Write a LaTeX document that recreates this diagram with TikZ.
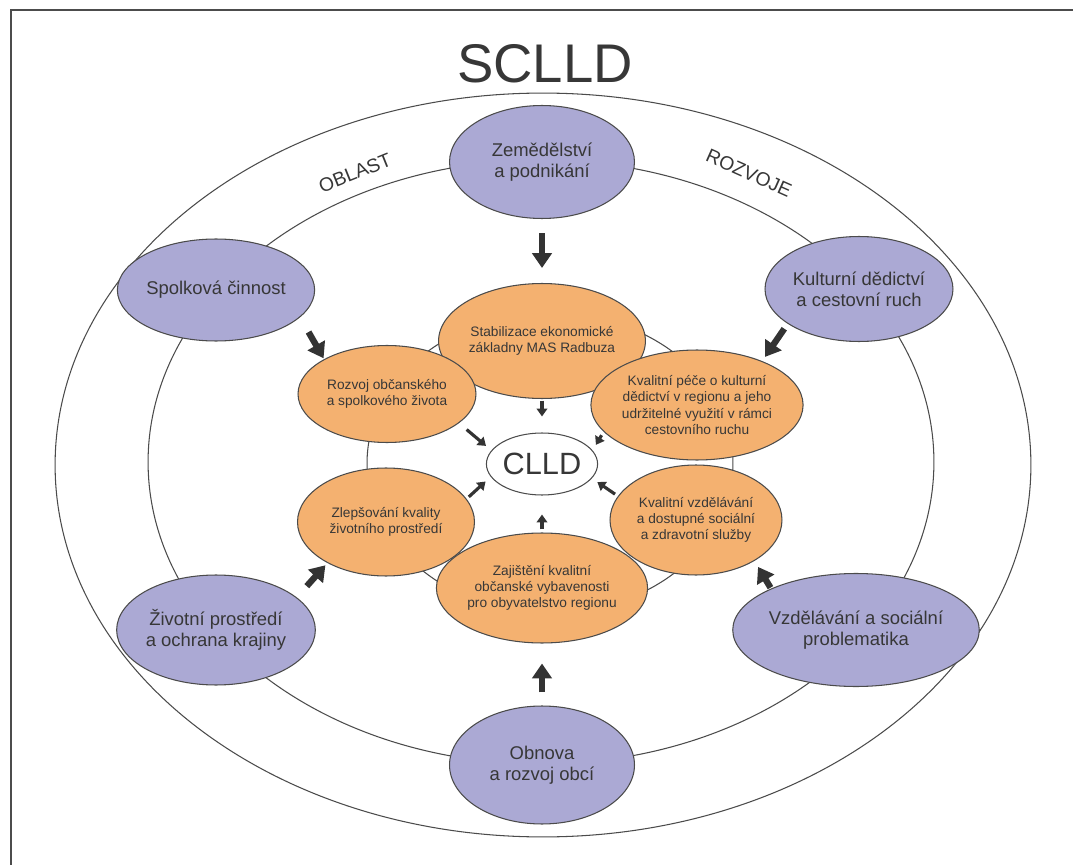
\documentclass[tikz,border=0pt]{standalone}
\usepackage{fontspec}
\setmainfont{Liberation Sans}
\usepackage{tikz}
\usetikzlibrary{shapes.geometric,arrows.meta}

\definecolor{lila}{RGB}{171,169,212}
\definecolor{oranz}{RGB}{244,177,112}
\definecolor{linka}{RGB}{75,75,75}
\definecolor{pismo}{RGB}{55,55,55}

\tikzset{
  oblast/.style={ellipse, draw=linka, line width=0.6pt, fill=lila, text=pismo,
    minimum width=3.7cm, minimum height=2.26cm, inner sep=0pt, align=center,
    font=\fontsize{10.5}{12}\selectfont},
  cil/.style={ellipse, draw=linka, line width=0.6pt, fill=oranz, text=pismo,
    minimum width=3.54cm, minimum height=2.2cm, inner sep=0pt, align=center,
    font=\fontsize{7.8}{9.2}\selectfont},
  kruh/.style={draw=linka, line width=0.6pt},
  velka/.style={-{Triangle[length=8.5pt,width=11pt]}, line width=3.6pt, color=black!80},
  mala/.style={-{Triangle[length=4.5pt,width=6pt]}, line width=1.8pt, color=black!80}
}

\begin{document}
\begin{tikzpicture}[x=0.02cm, y=-0.02cm]
\useasboundingbox (0,0) rectangle (1073,865);

% frame
\draw[line width=1.7pt, color=black!70] (11,865) -- (11,10) -- (1073,10);

% title
\node[font=\fontsize{31}{36}\selectfont, text=pismo] (nazev) at (545,64) {SCLLD};

% three rings
\draw[kruh] (543,465) ellipse [x radius=9.76cm, y radius=7.44cm];
\draw[kruh] (541,462) ellipse [x radius=7.86cm, y radius=6.04cm];
\draw[kruh] (550,463) ellipse [x radius=3.66cm, y radius=3.0cm];

\node[rotate=22, font=\fontsize{11}{13}\selectfont, text=pismo] (oblastnapis) at (355,173) {OBLAST};
\node[rotate=-24, font=\fontsize{11}{13}\selectfont, text=pismo] (rozvojnapis) at (749,173) {ROZVOJE};

% outer areas
\node[oblast] (zem) at (542,162) {Zemědělství\\a podnikání};
\node[oblast, minimum width=3.36cm, minimum height=2.04cm] (spol) at (216,290) {Spolková činnost};
\node[oblast, minimum width=3.76cm, minimum height=2.1cm] (kult) at (859,289) {Kulturní dědictví\\a cestovní ruch};
\node[oblast, minimum width=3.44cm, minimum height=2.2cm] (ziv) at (216,630) {Životní prostředí\\a ochrana krajiny};
\node[oblast] (vzd) at (856,630) {Vzdělávání a sociální\\problematika};
\node[oblast, minimum height=2.36cm] (obn) at (542,765) {Obnova\\a rozvoj obcí};

% goals
\node[cil, minimum height=2.3cm] (stab) at (542,341) {Stabilizace ekonomické\\základny MAS Radbuza};
\node[cil, minimum width=3.56cm, minimum height=1.94cm] (rozv) at (387,394) {Rozvoj občanského\\a spolkového života};
\node[cil, minimum width=3.42cm] (pece) at (697,405) {Kvalitní péče o kulturní\\dědictví v regionu a jeho\\udržitelné využití v rámci\\cestovního ruchu};
\node[cil, minimum height=2.16cm] (zlep) at (386,522) {Zlepšování kvality\\životního prostředí};
\node[cil, minimum width=3.44cm] (vzdel) at (696,520) {Kvalitní vzdělávání\\a dostupné sociální\\a zdravotní služby};
\node[cil, minimum width=3.56cm] (zaj) at (542,588) {Zajištění kvalitní\\občanské vybavenosti\\pro obyvatelstvo regionu};

% centre
\node[ellipse, draw=linka, line width=0.6pt, fill=white, text=pismo, minimum width=2.2cm,
  minimum height=1.24cm, inner sep=0pt, font=\fontsize{17.5}{20}\selectfont] (clld) at (542,464) {CLLD};

% areas -> goals
\draw[velka, shorten <=0.28cm, shorten >=0.3cm] (zem) -- (stab);
\draw[velka, shorten <=0.34cm, shorten >=0.02cm] (spol.-18.5) -- (rozv.151);
\draw[velka, shorten <=0.12cm, shorten >=0.1cm] (kult.206) -- (pece.34);
\draw[velka, shorten <=0.3cm, shorten >=0.06cm] (ziv.22) -- (zlep.215);
\draw[velka, shorten <=0.02cm, shorten >=0.14cm] (vzd.154) -- (vzdel.-35);
\draw[velka, shorten <=0.26cm, shorten >=0.4cm] (obn) -- (zaj);

% goals -> CLLD
\draw[mala, shorten <=0.03cm, shorten >=0.32cm] (stab) -- (clld);
\draw[mala, shorten <=0.2cm, shorten >=0.14cm] (rozv.-22) -- (clld.165);
\draw[mala, shorten <=0.08cm, shorten >=0.13cm] (pece.196) -- (clld.15);
\draw[mala, shorten <=0.06cm, shorten >=0.14cm] (zlep.16) -- (clld.194);
\draw[mala, shorten <=0.07cm, shorten >=0.13cm] (vzdel.163) -- (clld.-16);
\draw[mala, shorten <=0.06cm, shorten >=0.38cm] (zaj) -- (clld);

\end{tikzpicture}
\end{document}
